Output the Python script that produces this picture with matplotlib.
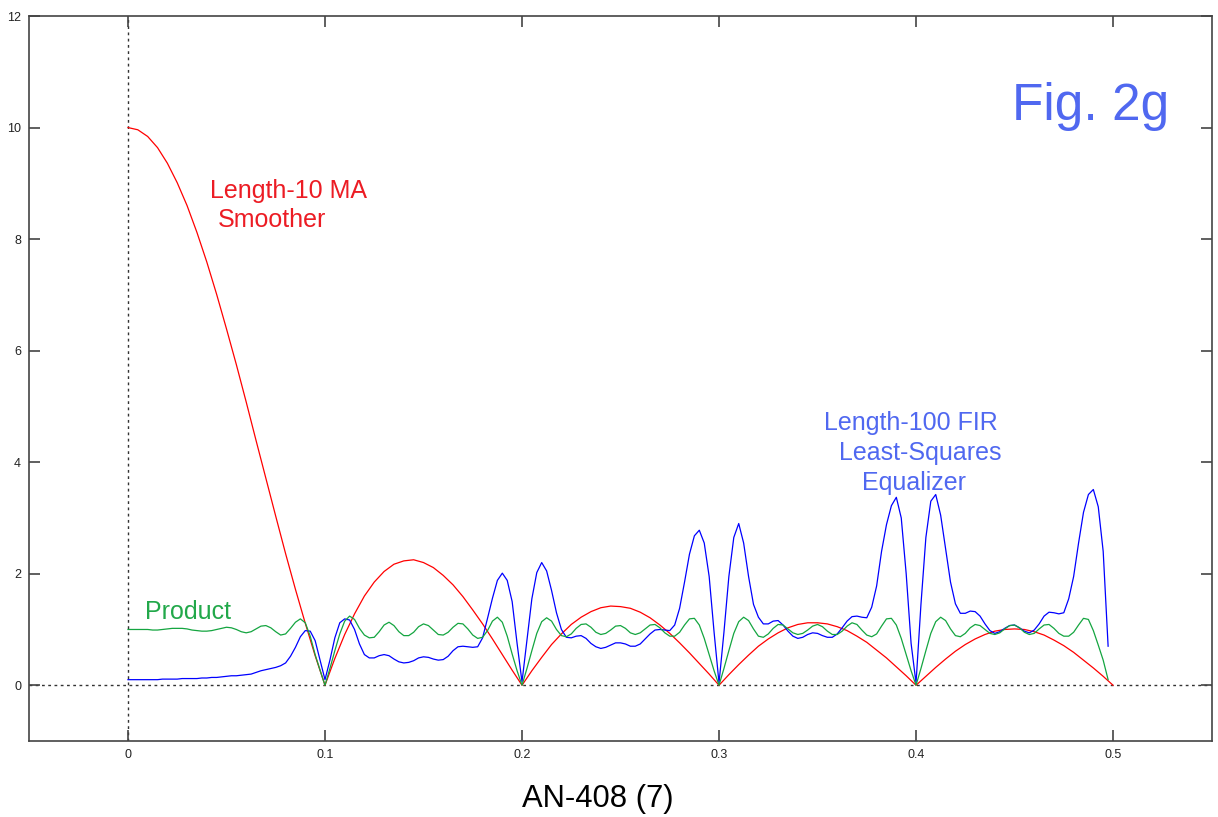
import matplotlib
matplotlib.use("Agg")
import matplotlib.pyplot as plt
import numpy as np

plt.rcParams['font.family'] = ['Liberation Sans', 'DejaVu Sans']

# frequency grids (cycles/sample)
f_red = np.arange(101) * 0.005
f_eq = np.arange(200) * 0.0025

# length-10 moving average smoother magnitude
smoother = [
    10.00, 9.96, 9.84, 9.64, 9.36, 9.01, 8.60, 8.12, 7.59, 7.01,
    6.39, 5.75, 5.08, 4.39, 3.71, 3.03, 2.36, 1.72, 1.11, 0.53,
    0.00, 0.48, 0.91, 1.28, 1.60, 1.85, 2.04, 2.17, 2.23, 2.25,
    2.20, 2.11, 1.97, 1.80, 1.59, 1.35, 1.10, 0.83, 0.55, 0.27,
    0.00, 0.26, 0.50, 0.73, 0.92, 1.09, 1.22, 1.32, 1.39, 1.42,
    1.41, 1.38, 1.31, 1.21, 1.08, 0.93, 0.76, 0.58, 0.39, 0.20,
    0.00, 0.19, 0.37, 0.54, 0.70, 0.83, 0.94, 1.03, 1.09, 1.12,
    1.12, 1.10, 1.05, 0.98, 0.88, 0.77, 0.63, 0.49, 0.33, 0.17,
    0.00, 0.16, 0.32, 0.47, 0.61, 0.73, 0.83, 0.91, 0.97, 1.00,
    1.01, 1.00, 0.96, 0.90, 0.81, 0.71, 0.59, 0.45, 0.31, 0.16,
    0.00,
]

# length-100 FIR least-squares equalizer magnitude
equalizer = [
    0.10, 0.10, 0.10, 0.10, 0.10, 0.10, 0.10, 0.11, 0.11, 0.11,
    0.11, 0.12, 0.12, 0.12, 0.12, 0.13, 0.13, 0.14, 0.14, 0.15,
    0.16, 0.17, 0.17, 0.18, 0.19, 0.20, 0.23, 0.26, 0.28, 0.30,
    0.32, 0.35, 0.40, 0.52, 0.68, 0.87, 0.98, 0.97, 0.80, 0.45,
    0.10, 0.45, 0.85, 1.12, 1.19, 1.17, 1.00, 0.74, 0.55, 0.49,
    0.49, 0.53, 0.55, 0.53, 0.47, 0.42, 0.40, 0.41, 0.44, 0.49,
    0.51, 0.50, 0.47, 0.45, 0.46, 0.52, 0.62, 0.69, 0.70, 0.69,
    0.68, 0.69, 0.85, 1.20, 1.56, 1.88, 2.01, 1.88, 1.50, 0.75,
    0.06, 0.80, 1.55, 2.02, 2.20, 2.05, 1.70, 1.30, 1.00, 0.86,
    0.85, 0.88, 0.89, 0.84, 0.75, 0.69, 0.66, 0.68, 0.72, 0.76,
    0.76, 0.74, 0.70, 0.70, 0.74, 0.83, 0.92, 0.99, 1.00, 0.99,
    0.98, 1.08, 1.38, 1.85, 2.35, 2.68, 2.78, 2.55, 1.95, 0.95,
    0.04, 0.95, 1.95, 2.65, 2.90, 2.55, 1.95, 1.45, 1.22, 1.10,
    1.10, 1.15, 1.16, 1.08, 0.97, 0.88, 0.84, 0.86, 0.91, 0.94,
    0.93, 0.89, 0.86, 0.86, 0.92, 1.03, 1.15, 1.23, 1.24, 1.22,
    1.21, 1.40, 1.78, 2.40, 2.88, 3.22, 3.37, 3.00, 2.00, 0.75,
    0.04, 1.45, 2.65, 3.30, 3.42, 3.05, 2.45, 1.85, 1.46, 1.29,
    1.29, 1.33, 1.32, 1.24, 1.10, 0.98, 0.93, 0.96, 1.02, 1.07,
    1.08, 1.03, 0.97, 0.94, 0.99, 1.10, 1.24, 1.31, 1.30, 1.28,
    1.30, 1.55, 1.95, 2.55, 3.10, 3.42, 3.51, 3.20, 2.40, 0.70,
]

# product of the two responses
product = [
    1.00, 1.00, 1.00, 1.00, 1.00, 0.99, 0.99, 1.00, 1.01, 1.02,
    1.02, 1.02, 1.01, 0.99, 0.98, 0.97, 0.97, 0.98, 1.00, 1.02,
    1.04, 1.03, 1.00, 0.96, 0.94, 0.96, 1.01, 1.06, 1.07, 1.03,
    0.96, 0.90, 0.92, 1.02, 1.13, 1.19, 1.12, 0.88, 0.55, 0.27,
    0.00, 0.30, 0.62, 0.92, 1.15, 1.24, 1.18, 1.02, 0.90, 0.85,
    0.86, 0.96, 1.08, 1.13, 1.07, 0.96, 0.89, 0.89, 0.95, 1.05,
    1.10, 1.07, 0.99, 0.91, 0.90, 0.95, 1.04, 1.11, 1.10, 1.01,
    0.90, 0.84, 0.86, 0.98, 1.15, 1.22, 1.13, 0.88, 0.56, 0.26,
    0.00, 0.30, 0.62, 0.93, 1.14, 1.21, 1.15, 1.00, 0.89, 0.87,
    0.92, 1.02, 1.09, 1.10, 1.04, 0.95, 0.91, 0.93, 0.99, 1.06,
    1.07, 1.02, 0.94, 0.91, 0.94, 1.01, 1.08, 1.09, 1.03, 0.94,
    0.88, 0.88, 0.95, 1.08, 1.19, 1.20, 1.08, 0.84, 0.55, 0.26,
    0.00, 0.30, 0.62, 0.93, 1.14, 1.22, 1.16, 1.01, 0.88, 0.86,
    0.92, 1.02, 1.09, 1.08, 1.01, 0.94, 0.91, 0.93, 0.99, 1.06,
    1.09, 1.05, 0.97, 0.91, 0.91, 0.97, 1.06, 1.12, 1.09, 0.99,
    0.90, 0.87, 0.92, 1.06, 1.19, 1.20, 1.08, 0.84, 0.55, 0.26,
    0.00, 0.30, 0.62, 0.93, 1.14, 1.22, 1.16, 1.01, 0.89, 0.87,
    0.93, 1.03, 1.09, 1.07, 1.00, 0.93, 0.91, 0.94, 1.01, 1.07,
    1.08, 1.03, 0.95, 0.91, 0.93, 1.01, 1.08, 1.09, 1.02, 0.93,
    0.88, 0.88, 0.95, 1.08, 1.20, 1.18, 0.98, 0.72, 0.45, 0.10,
]

xticks = [0, 0.1, 0.2, 0.3, 0.4, 0.5]
xticklabels = ["0", "0.1", "0.2", "0.3", "0.4", "0.5"]
yticks = [0, 2, 4, 6, 8, 10, 12]

fig = plt.figure(figsize=(12.18, 8.17), dpi=100)
ax = fig.add_axes([0.0242, 0.093, 0.9705, 0.8874])

# dotted zero lines
ax.axvline(0, color='#333333', ls=(0, (2, 2.5)), lw=1.0, zorder=1)
ax.axhline(0, color='#333333', ls=(0, (2, 2.5)), lw=1.0, zorder=1)

ax.plot(f_red, smoother, color='#ff0000', lw=0.9)
ax.plot(f_eq, equalizer, color='#0000ff', lw=0.9)
ax.plot(f_eq, product, color='#14a540', lw=0.9)

ax.set_xlim(-0.05, 0.55)
ax.set_ylim(-1, 12)
ax.set_xticks(xticks)
ax.set_xticklabels(xticklabels)
ax.set_yticks(yticks)
ax.tick_params(direction='in', length=8, width=1.2, color='#444444',
               labelsize=9, labelcolor='#222222',
               top=True, right=True, pad=6)
for s in ax.spines.values():
    s.set_color('#444444')
    s.set_linewidth(1.2)

red_txt = '#ec1c24'
blue_txt = '#5068f0'
ax.text(0.0416, 8.73, "Length-10 MA", color=red_txt, fontsize=18, va='baseline')
ax.text(0.0456, 8.21, "Smoother", color=red_txt, fontsize=18, va='baseline')
ax.text(0.3533, 4.57, "Length-100 FIR", color=blue_txt, fontsize=18, va='baseline')
ax.text(0.3609, 4.03, "Least-Squares", color=blue_txt, fontsize=18, va='baseline')
ax.text(0.3725, 3.50, "Equalizer", color=blue_txt, fontsize=18, va='baseline')
ax.text(0.0086, 1.18, "Product", color='#22a84a', fontsize=18, va='baseline')
ax.text(0.4486, 10.13, "Fig. 2g", color=blue_txt, fontsize=37, va='baseline')

fig.text(0.491, 0.012, "AN-408 (7)", fontsize=22.3, ha='center', va='baseline')

fig.savefig("out.png", dpi=100)
